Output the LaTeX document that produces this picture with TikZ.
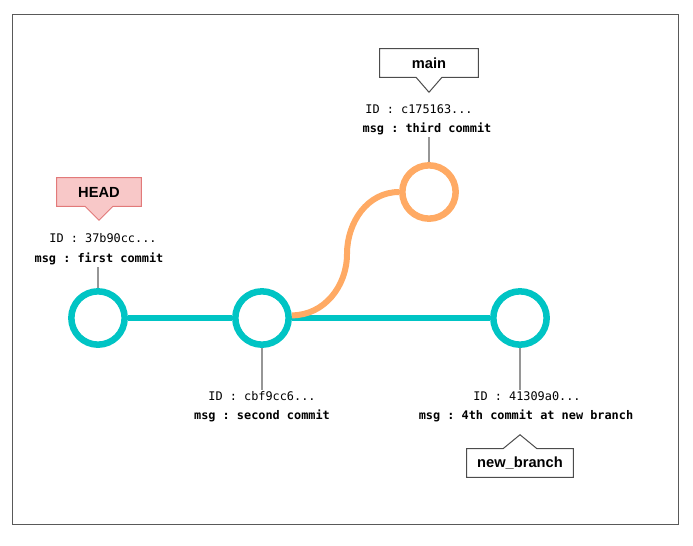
\documentclass[tikz,border=0pt]{standalone}
\usepackage{fontspec}
\setsansfont{Liberation Sans}
\setmonofont{DejaVu Sans Mono}
\usetikzlibrary{calc,backgrounds}
\definecolor{trunk}{RGB}{0,196,196}
\definecolor{side}{RGB}{255,170,100}
\definecolor{headfill}{RGB}{248,200,200}
\definecolor{headline}{RGB}{226,122,122}
\definecolor{stemgray}{RGB}{150,150,150}
\newcommand{\idtxt}[1]{\fontsize{8.9}{10}\ttfamily #1}
\newcommand{\msgtxt}[1]{\fontsize{8.9}{10}\ttfamily\bfseries #1}

\begin{document}
\begin{tikzpicture}[x=0.75pt,y=-0.75pt,
  commit/.style={circle,draw=#1,line width=4.9pt,fill=white,minimum size=40pt,inner sep=0},
  branch/.style={draw=#1,line width=4.5pt},
  stem/.style={draw=stemgray,line width=0.9pt},
  txt/.style={inner sep=1pt},
  tag/.style={font=\fontsize{11}{12}\sffamily\bfseries,inner sep=0,minimum height=21pt}]
  \useasboundingbox (0,0) rectangle (693,546);
  \draw[black!65,line width=0.75pt] (12,14) rectangle (678,524);

  % commits
  \node[commit=trunk] (c1) at (98,318) {};
  \node[commit=trunk] (c2) at (262,318) {};
  \node[commit=side] (c3) at (429,192) {};
  \node[commit=trunk] (c4) at (520,318) {};
  \coordinate (bend) at (347,254);
  \draw[branch=trunk] (c1) -- (c2);
  \draw[branch=trunk] (c2) -- (c4);
  \draw[branch=side] ([yshift=2pt]c2.east) to[out=0,in=-90] (bend) to[out=90,in=180] (c3.west);

  % labels
  \node[txt] (id1) at (103,238) {\idtxt{ID : 37b90cc...}};
  \node[txt] (msg1) at (99,259) {\msgtxt{msg : first commit}};
  \node[txt] (id3) at (419,109) {\idtxt{ID : c175163...}};
  \node[txt] (msg3) at (427,129) {\msgtxt{msg : third commit}};
  \node[txt] (id2) at (262,396) {\idtxt{ID : cbf9cc6...}};
  \node[txt] (msg2) at (262,416) {\msgtxt{msg : second commit}};
  \node[txt] (id4) at (527,396) {\idtxt{ID : 41309a0...}};
  \node[txt] (msg4) at (526,416) {\msgtxt{msg : 4th commit at new branch}};
  \draw[stem] (c1.north) -- (c1.north |- msg1.south);
  \draw[stem] (c3.north) -- (c3.north |- msg3.south);
  \draw[stem] (c2.south) -- (c2.south |- id2.north);
  \draw[stem] (c4.south) -- (c4.south |- id4.north);

  % refs
  \node[tag,minimum width=63pt] (head) at (99,192) {HEAD};
  \node[tag,minimum width=73.5pt] (main) at (429,63) {main};
  \node[tag,minimum width=79.5pt] (nb) at (520,463) {new\_branch};
  \begin{scope}[on background layer]
  \filldraw[fill=headfill,draw=headline,line width=0.75pt] (head.north west) -- (head.north east) -- (head.south east)
    -- ($(head.south)+(14,0)$) -- ($(head.south)+(0,14)$) -- ($(head.south)+(-14,0)$) -- (head.south west) -- cycle;
  \draw[black!70,line width=0.75pt] (main.north west) -- (main.north east) -- (main.south east)
    -- ($(main.south)+(13,0)$) -- ($(main.south)+(0,15)$) -- ($(main.south)+(-13,0)$) -- (main.south west) -- cycle;
  \draw[black!70,line width=0.75pt] (nb.south west) -- (nb.south east) -- (nb.north east)
    -- ($(nb.north)+(17,0)$) -- ($(nb.north)+(0,-14)$) -- ($(nb.north)+(-17,0)$) -- (nb.north west) -- cycle;
  \end{scope}
\end{tikzpicture}
\end{document}
